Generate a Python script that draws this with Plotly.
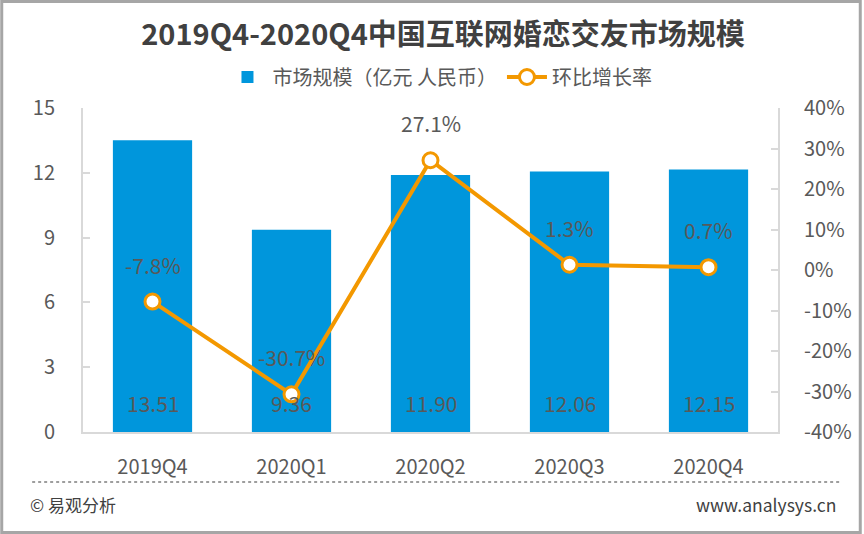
import plotly.graph_objects as go

categories = ["2019Q4", "2020Q1", "2020Q2", "2020Q3", "2020Q4"]
market_size = [13.51, 9.36, 11.90, 12.06, 12.15]
growth_rate = [-7.8, -30.7, 27.1, 1.3, 0.7]
left_ticks = [0, 3, 6, 9, 12, 15]
right_ticks = [-40, -30, -20, -10, 0, 10, 20, 30, 40]

W, H = 864, 534
L, R, T, B = 83, 84, 108, 102
PW, PH = W - L - R, H - T - B

def px_x(x):
    return (x - L) / PW

def px_y(y):
    return (H - B - y) / PH

FONT = "Noto Sans CJK SC"
GRAY = "#595959"
BLUE = "#0096DC"
ORANGE = "#F39800"

fig = go.Figure()
fig.add_trace(go.Bar(
    x=categories, y=market_size, name="市场规模（亿元 人民币）",
    marker=dict(color=BLUE, line=dict(width=0)), yaxis="y",
))
fig.add_trace(go.Scatter(
    x=categories, y=growth_rate, name="环比增长率", yaxis="y2",
    mode="lines+markers",
    line=dict(color=ORANGE, width=4),
    marker=dict(size=15, color="white", line=dict(color=ORANGE, width=3)),
))

annotations = []
for c, v in zip(categories, market_size):
    annotations.append(dict(x=c, y=0, xref="x", yref="y", text=f"{v:.2f}",
                            showarrow=False, yshift=29,
                            font=dict(family=FONT, size=21, color=GRAY)))
for c, v in zip(categories, growth_rate):
    annotations.append(dict(x=c, y=v, xref="x", yref="y2", text=f"{v:.1f}%",
                            showarrow=False, yshift=37,
                            font=dict(family=FONT, size=21, color=GRAY)))
annotations.append(dict(x=px_x(28), y=px_y(505), xref="paper", yref="paper",
                        text="© 易观分析", showarrow=False, xanchor="left", yanchor="middle",
                        font=dict(family=FONT, size=17, color="#404040")))
annotations.append(dict(x=px_x(840), y=px_y(505), xref="paper", yref="paper",
                        text="www.analysys.cn", showarrow=False, xanchor="right", yanchor="middle",
                        font=dict(family=FONT, size=17.5, color="#404040")))

shapes = [
    dict(type="rect", xref="paper", yref="paper",
         x0=px_x(1.5), x1=px_x(862.5), y0=px_y(532.5), y1=px_y(1.5),
         line=dict(color="#A6A6A6", width=3), fillcolor="rgba(0,0,0,0)", layer="above"),
    dict(type="line", xref="paper", yref="paper",
         x0=px_x(32), x1=px_x(842), y0=px_y(482), y1=px_y(482),
         line=dict(color="#7F7F7F", width=1.5, dash="dot")),
]

fig.update_layout(
    width=W, height=H,
    margin=dict(l=L, r=R, t=T, b=B, pad=0),
    paper_bgcolor="white", plot_bgcolor="white",
    font=dict(family=FONT, color=GRAY, size=18),
    title=dict(text="<b>2019Q4-2020Q4中国互联网婚恋交友市场规模</b>",
               x=443 / W, xanchor="center", y=1 - 35 / H, yanchor="middle", yref="container",
               font=dict(family=FONT, size=29, color="#404040")),
    legend=dict(orientation="h", x=px_x(441), xanchor="center", y=px_y(77), yanchor="middle",
                font=dict(family=FONT, size=20, color=GRAY), itemwidth=40,
                bgcolor="rgba(0,0,0,0)"),
    bargap=0.43,
    xaxis=dict(showline=True, linecolor="#D9D9D9", linewidth=2, ticks="",
               tickfont=dict(family=FONT, size=20, color=GRAY), ticklabelstandoff=16,
               showgrid=False, zeroline=False),
    yaxis=dict(range=[0, 15], tickvals=left_ticks, showline=True, linecolor="#D9D9D9",
               linewidth=2, ticks="inside", ticklen=7, tickcolor="#D9D9D9", tickwidth=2,
               showgrid=False, zeroline=False, ticklabelstandoff=22,
               tickfont=dict(family=FONT, size=20, color=GRAY)),
    yaxis2=dict(range=[-40, 40], tickvals=right_ticks,
                ticktext=[f"{t}%" for t in right_ticks],
                overlaying="y", side="right", showline=True, linecolor="#D9D9D9",
                linewidth=2, ticks="inside", ticklen=7, tickcolor="#D9D9D9", tickwidth=2,
                showgrid=False, zeroline=False, ticklabelstandoff=20,
                tickfont=dict(family=FONT, size=20, color=GRAY)),
    annotations=annotations,
    shapes=shapes,
)

fig.write_html("out.html", config={"displayModeBar": False},
               post_script="document.body.style.margin='0';")
